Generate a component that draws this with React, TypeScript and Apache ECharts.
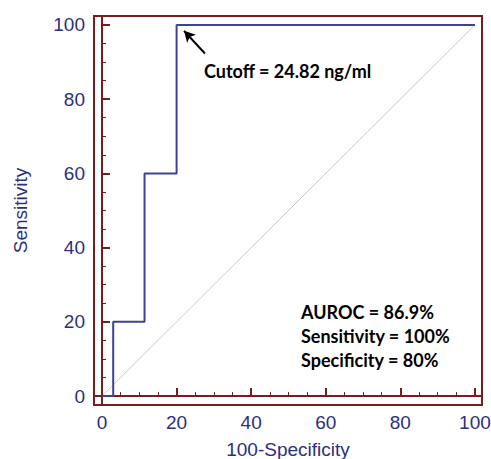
import React, { useEffect, useRef } from "react";
import * as echarts from "echarts";

const rocX = [0, 3, 3, 11.4, 11.4, 20, 20, 100];
const rocY = [0, 0, 20, 20, 60, 60, 100, 100];
const diagX = [0, 100];
const diagY = [0, 100];
const majorTicks = [0, 20, 40, 60, 80, 100];
const minorTicks = [5, 10, 15, 25, 30, 35, 45, 50, 55, 65, 70, 75, 85, 90, 95];
const arrowFrom = [27.6, 92.3];
const arrowTo = [22.0, 98.4];
const cutoffText = "Cutoff = 24.82 ng/ml";
const statsText = ["AUROC = 86.9%", "Sensitivity = 100%", "Specificity = 80%"];

const NAVY = "#2b2f80";
const CURVE = "#3d4296";
const BOX = "#7a1c1c";

export default function App() {
  const ref = useRef<HTMLDivElement>(null);
  useEffect(() => {
    const chart = echarts.init(ref.current!, null, { renderer: "svg" });
    const xMin = -2.15, xMax = 101.9, yMin = -2.4, yMax = 102.4;
    const axisCommon = (isX: boolean) => ({
      type: "value" as const,
      min: isX ? xMin : yMin,
      max: isX ? xMax : yMax,
      splitLine: { show: false },
    });
    chart.setOption({
      animation: false,
      backgroundColor: "#ffffff",
      grid: {
        left: 94,
        top: 16,
        right: 9,
        bottom: 54,
        show: true,
        borderColor: BOX,
        borderWidth: 2,
        containLabel: false,
        outerBoundsMode: "none",
      },
      xAxis: [
        {
          ...axisCommon(true),
          name: "100-Specificity",
          nameLocation: "middle",
          nameGap: 35,
          nameTextStyle: { color: NAVY, fontSize: 19, fontFamily: "Liberation Sans" },
          axisLine: { show: true, lineStyle: { color: BOX, width: 2 } },
          axisTick: { show: true, inside: true, length: 8, customValues: majorTicks, lineStyle: { color: BOX, width: 2 } },
          axisLabel: { show: true, customValues: majorTicks, margin: 8, color: NAVY, fontSize: 19, fontFamily: "Liberation Sans" },
        },
        {
          ...axisCommon(true),
          position: "bottom",
          axisLine: { show: false },
          axisTick: { show: true, inside: true, length: 4, customValues: minorTicks, lineStyle: { color: BOX, width: 1 } },
          axisLabel: { show: false },
        },
      ],
      yAxis: [
        {
          ...axisCommon(false),
          name: "Sensitivity",
          nameLocation: "middle",
          nameGap: 64,
          nameTextStyle: { color: NAVY, fontSize: 19, fontFamily: "Liberation Sans" },
          axisLine: { show: true, lineStyle: { color: BOX, width: 2 } },
          axisTick: { show: true, inside: true, length: 8, customValues: majorTicks, lineStyle: { color: BOX, width: 2 } },
          axisLabel: { show: true, customValues: majorTicks, margin: 9, color: NAVY, fontSize: 19, fontFamily: "Liberation Sans" },
        },
        {
          ...axisCommon(false),
          position: "left",
          axisLine: { show: false },
          axisTick: { show: true, inside: true, length: 4, customValues: minorTicks, lineStyle: { color: BOX, width: 1 } },
          axisLabel: { show: false },
        },
      ],
      series: [
        {
          type: "line",
          data: diagX.map((x, i) => [x, diagY[i]]),
          symbol: "none",
          lineStyle: { color: "#c8c8c8", width: 1 },
          silent: true,
        },
        {
          type: "line",
          data: rocX.map((x, i) => [x, rocY[i]]),
          symbol: "none",
          lineStyle: { color: CURVE, width: 2 },
          silent: true,
          markLine: {
            silent: true,
            symbol: ["none", "arrow"],
            symbolSize: [9, 11],
            label: { show: false },
            lineStyle: { color: "#000000", width: 2, type: "solid" },
            data: [[{ coord: arrowFrom }, { coord: arrowTo }]],
          },
        },
      ],
      graphic: [
        {
          type: "text",
          left: 204,
          top: 62,
          style: { text: cutoffText, fontFamily: "Lato", fontWeight: "bold", fontSize: 18, fill: "#000" },
        },
        {
          type: "text",
          left: 301,
          top: 300,
          style: {
            text: statsText.join("\n"),
            fontFamily: "Lato",
            fontWeight: "bold",
            fontSize: 18,
            lineHeight: 24,
            fill: "#000",
          },
        },
      ],
    });
    return () => chart.dispose();
  }, []);
  return <div ref={ref} style={{ width: 491, height: 459, position: "absolute", left: 0, top: 0 }} />;
}
